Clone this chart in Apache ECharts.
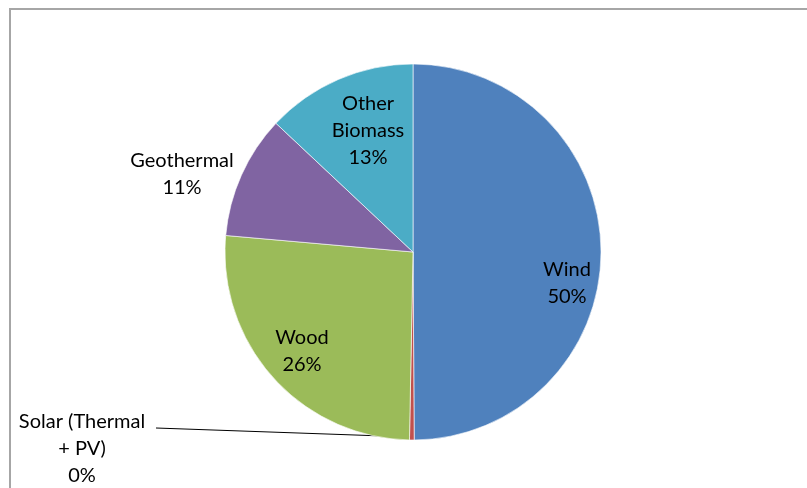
<!DOCTYPE html>
<html><head><meta charset="utf-8">
<script src="https://cdn.jsdelivr.net/npm/echarts@6/dist/echarts.min.js"></script>
<style>html,body{margin:0;padding:0;background:#fff}#c{width:807px;height:488px}</style>
</head><body><div id="c"></div>
<script>
const categories = ['Wind', 'Solar (Thermal\n+ PV)', 'Wood', 'Geothermal', 'Other\nBiomass'];
const values = [49.9, 0.4, 26.1, 10.6, 13.0];
const colors = ['#4F81BD', '#C0504D', '#9BBB59', '#8064A2', '#4BACC6'];
const labelPos = [[567, 283], [82, 449], [302, 351], [182, 174], [368, 131]];

const chart = echarts.init(document.getElementById('c'), null, {renderer: 'canvas'});
chart.setOption({
  animation: false,
  graphic: [{type: 'rect', shape: {x: 10, y: 9, width: 900, height: 600},
    style: {fill: 'none', stroke: '#a6a6a6', lineWidth: 2}, silent: true}],
  series: [{
    type: 'pie',
    center: [413, 252],
    radius: 188,
    startAngle: 90,
    clockwise: true,
    avoidLabelOverlap: false,
    data: categories.map((c, i) => ({name: c, value: values[i], itemStyle: {color: colors[i]},
      labelLine: {show: i === 1, length: 5, length2: 5, lineStyle: {color: '#000', width: 1.2}}})),
    itemStyle: {borderColor: '#fff', borderWidth: 0.6},
    label: {
      position: 'outside',
      formatter: p => p.name + '\n' + Math.round(p.value) + '%',
      fontFamily: 'Lato, "Liberation Sans", sans-serif',
      fontSize: 20,
      lineHeight: 27,
      color: '#000',
      align: 'center'
    },
    labelLayout: function (params) {
      const i = params.dataIndex;
      const o = {x: labelPos[i][0], y: labelPos[i][1], align: 'center', verticalAlign: 'middle'};
      if (i === 1) {
        const a = params.labelLinePoints ? params.labelLinePoints[0] : [410, 436];
        o.labelLinePoints = [[a[0], a[1] - 3], [156, 428]];
      }
      return o;
    }
  }]
});
</script></body></html>
